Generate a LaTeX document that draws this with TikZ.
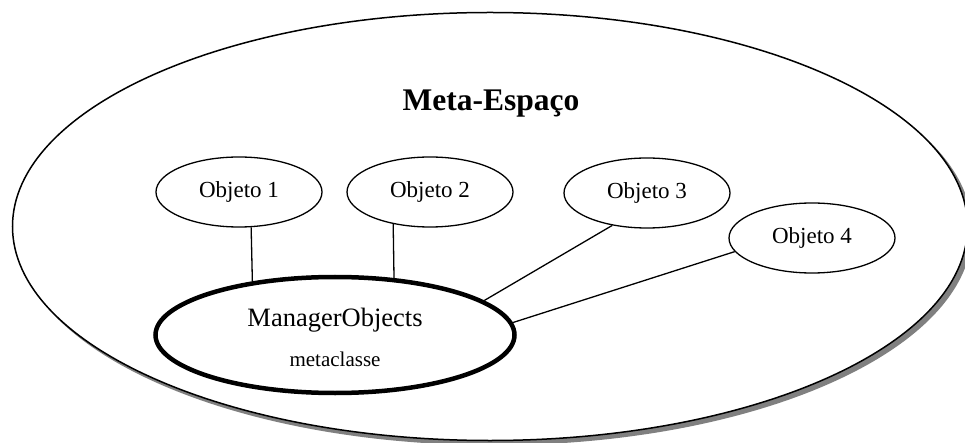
\documentclass[tikz,border=0pt]{standalone}
\usepackage{fontspec}
\setmainfont{Liberation Serif}
\usetikzlibrary{shapes.geometric}

\tikzset{
  space/.style={ellipse, draw, line width=1.5pt, fill=white,
    minimum width=955pt, minimum height=428pt, inner sep=0pt, outer sep=0pt},
  spaceshadow/.style={ellipse, fill=black!50, draw=black!50, line width=1.5pt,
    minimum width=955pt, minimum height=428pt, inner sep=0pt, outer sep=0pt},
  objnode/.style={ellipse, draw, line width=1.3pt, fill=white,
    minimum width=166pt, minimum height=70pt, inner sep=0pt,
    font=\fontsize{23}{23}\selectfont},
  managernode/.style={ellipse, draw, line width=4.5pt, fill=white,
    minimum width=359pt, minimum height=116pt, inner sep=0pt},
  link/.style={line width=1.3pt},
  title/.style={font=\fontsize{31.5}{31.5}\selectfont\bfseries, anchor=base},
  mainlabel/.style={font=\fontsize{26.5}{26.5}\selectfont, anchor=base},
  sublabel/.style={font=\fontsize{21}{21}\selectfont, anchor=base}
}

\begin{document}
\begin{tikzpicture}[x=1pt, y=-1pt]
  \useasboundingbox (0,0) rectangle (965,443);
  \clip (0,0) rectangle (965,443);
  \fill[white] (0,0) rectangle (965,443);

  % outer meta-space with its drop shadow
  \node[spaceshadow] (shadow) at (494,230.5) {};
  \node[space] (meta) at (490,226.5) {};
  \node[title] (metatitle) at (491,111) {Meta-Espaço};

  % objects
  \node[objnode] (o1) at (239,192) {Objeto 1};
  \node[objnode] (o2) at (430,192) {Objeto 2};
  \node[objnode] (o3) at (647,193) {Objeto 3};
  \node[objnode] (o4) at (812,238) {Objeto 4};

  % the metaclass
  \node[managernode] (m) at (335,335) {};
  \node[mainlabel] (mname) at (335,326) {ManagerObjects};
  \node[sublabel] (mkind) at (335,366) {metaclasse};

  % connections
  \draw[link] (o1.-71) -- (m.147);
  \draw[link] (o2.221) -- (m.44);
  \draw[link] (o3.223) -- (m.13);
  \draw[link] (o4.190) -- (m.4);
\end{tikzpicture}
\end{document}
